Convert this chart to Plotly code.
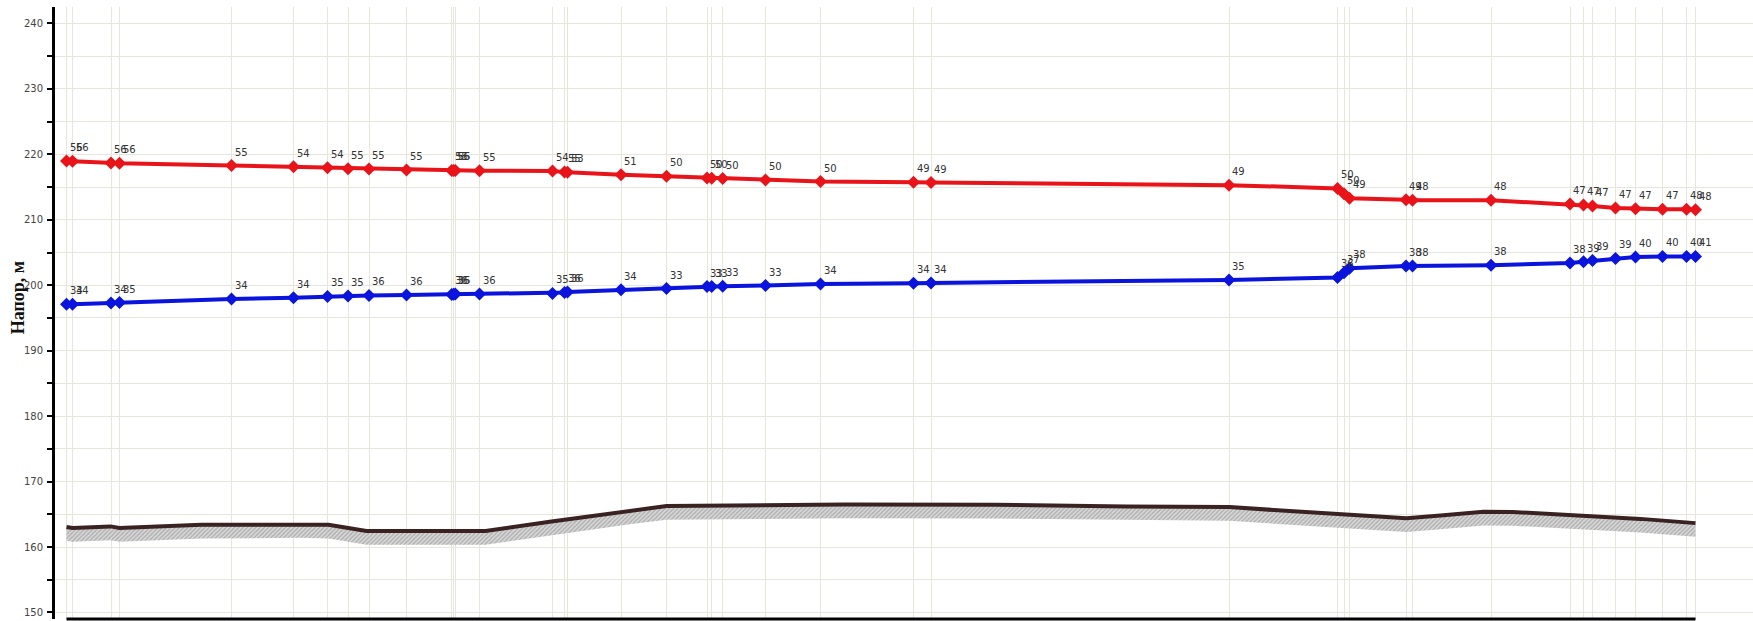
import plotly.graph_objects as go

# Distance along the pipeline, m (one entry per node)
node_dist = [0, 6, 44.5, 53, 165, 227, 261, 281.5, 302.5, 340, 385.2, 387, 388.8, 413,
             486, 498, 501, 554.5, 600, 640.5, 645.2, 656.2, 699, 754, 847, 864.5,
             1162.5, 1271, 1277.5, 1283, 1339.5, 1346, 1424.5, 1503.5, 1517, 1526,
             1549, 1569, 1596, 1620, 1629]

# Piezometric head on the supply line, m
head_supply = [219.0, 218.95, 218.7, 218.65, 218.3, 218.1, 217.95, 217.8, 217.75, 217.6,
               217.55, 217.55, 217.55, 217.5, 217.45, 217.3, 217.25, 216.9, 216.65, 216.4,
               216.35, 216.3, 216.1, 215.85, 215.75, 215.7, 215.3, 214.8, 214.0, 213.3,
               213.05, 213.0, 213.0, 212.4, 212.25, 212.1, 211.8, 211.7, 211.6, 211.6, 211.55]

# Piezometric head on the return line, m
head_return = [197.1, 197.1, 197.3, 197.35, 197.9, 198.1, 198.3, 198.35, 198.45, 198.5,
               198.6, 198.62, 198.65, 198.65, 198.75, 198.9, 198.95, 199.3, 199.5, 199.8,
               199.8, 199.85, 199.95, 200.2, 200.3, 200.35, 200.8, 201.2, 201.9, 202.6,
               202.95, 202.95, 203.05, 203.4, 203.6, 203.8, 204.1, 204.3, 204.4, 204.4, 204.4]

# Pressure at the nodes, m
press_supply = ["56", "56", "56", "56", "55", "54", "54", "55", "55", "55", "55", "56", "55", "55",
                "54", "55", "53", "51", "50", "50", "50", "50", "50", "50", "49", "49",
                "49", "50", "50", "49", "49", "48", "48", "47", "47", "47", "47", "47", "47", "48", "48"]
press_return = ["34", "34", "34", "35", "34", "34", "35", "35", "36", "36", "36", "36", "35", "36",
                "35", "36", "36", "34", "33", "33", "33", "33", "33", "34", "34", "34",
                "35", "36", "37", "38", "38", "38", "38", "38", "39", "39", "39", "40", "40", "40", "41"]

# Ground surface profile
ground_dist = [0, 6, 44, 53, 135, 233, 262, 300, 419, 485, 565, 600, 778, 928, 1060,
               1163, 1223, 1278, 1340, 1374, 1417, 1446, 1515, 1574, 1629]
ground_elev = [163.05, 162.9, 163.15, 162.9, 163.4, 163.5, 163.4, 162.45, 162.45, 163.9,
               165.6, 166.25, 166.5, 166.45, 166.2, 166.1, 165.5, 164.95, 164.4, 164.8,
               165.4, 165.35, 164.8, 164.3, 163.65]
soil_layer = 2.1  # depth of the hatched soil band, m

GRID = "#e6e6da"

fig = go.Figure()

# soil band below the ground line
fig.add_trace(go.Scatter(
    x=ground_dist, y=[g - soil_layer for g in ground_elev], mode="lines",
    line=dict(width=0, color="rgba(0,0,0,0)"), showlegend=False, hoverinfo="skip"))
fig.add_trace(go.Scatter(
    x=ground_dist, y=ground_elev, mode="lines", fill="tonexty",
    fillcolor="#cfcfcf",
    fillpattern=dict(shape="/", fgcolor="#7f7f7f", bgcolor="#dadada", size=3, solidity=0.45),
    line=dict(color="#3a2222", width=4), showlegend=False))

for heads, color in ((head_supply, "#e8141a"), (head_return, "#0a14dc")):
    fig.add_trace(go.Scatter(
        x=node_dist, y=heads, mode="lines+markers",
        line=dict(color=color, width=4),
        marker=dict(symbol="diamond", size=10, color=color),
        showlegend=False))

annotations = []
for heads, labels in ((head_supply, press_supply), (head_return, press_return)):
    for xd, yv, t in zip(node_dist, heads, labels):
        annotations.append(dict(
            x=xd, y=yv, text=t, showarrow=False, xanchor="left", yanchor="bottom",
            xshift=1, yshift=6, font=dict(family="DejaVu Sans", size=10, color="#333333")))

annotations.append(dict(
    x=0, xref="paper", xshift=-37, y=198, yref="y", text="<b>Напор, м</b>",
    textangle=-90, showarrow=False, xanchor="center", yanchor="middle",
    font=dict(family="Liberation Serif", size=18, color="#111111")))

fig.update_layout(
    width=1753, height=621,
    margin=dict(l=55, r=0, t=7, b=2),
    paper_bgcolor="white", plot_bgcolor="white",
    annotations=annotations,
    shapes=[dict(type="line", xref="x", yref="paper", x0=node_dist[0], x1=node_dist[-1],
                 y0=0, y1=0, line=dict(color="black", width=3))],
)

fig.update_xaxes(
    range=[-11.5, 1686.5], tickvals=node_dist, showticklabels=False, ticks="",
    showgrid=True, gridcolor=GRID, gridwidth=1, zeroline=False, showline=False)

fig.update_yaxes(
    range=[149.0, 242.52], dtick=10, tick0=150, ticks="outside", ticklen=5,
    tickwidth=2, tickcolor="black", showline=True, linecolor="black", linewidth=3,
    showgrid=True, gridcolor=GRID, gridwidth=1, zeroline=False, ticklabelstandoff=2,
    tickfont=dict(family="DejaVu Sans", size=10, color="#444444"),
    minor=dict(dtick=5, ticks="outside", ticklen=5, tickwidth=2, tickcolor="black",
               showgrid=True, gridcolor=GRID, gridwidth=1))

fig.write_html("out.html")
